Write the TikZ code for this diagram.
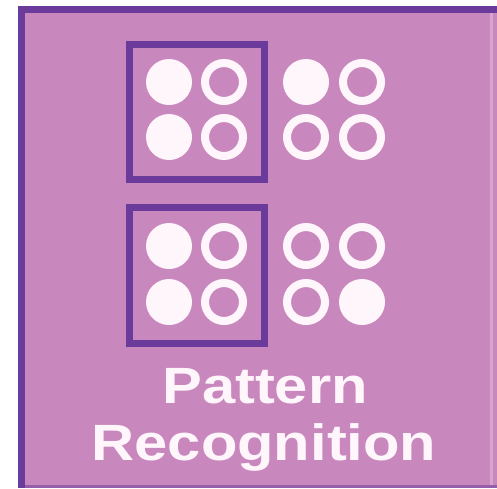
\documentclass[tikz,border=0pt]{standalone}
\usepackage{fontspec}
\setmainfont{Liberation Sans}
\definecolor{panel}{HTML}{C988BD}
\definecolor{frame}{HTML}{6A3B9A}
\definecolor{dot}{HTML}{FFF6FC}
\begin{document}
\begin{tikzpicture}[x=1pt,y=-1pt,
  full/.style={circle,fill=dot,minimum size=46pt,inner sep=0pt},
  ring/.style={circle,draw=dot,line width=8pt,minimum size=38pt,inner sep=0pt},
  selbox/.style={draw=frame,line width=7pt},
  label/.style={text=dot,font=\bfseries\fontsize{51}{51}\selectfont,xscale=1.17,inner sep=0pt}]
\useasboundingbox (0,0) rectangle (497,488);
\fill[white] (0,0) rectangle (497,488);
% panel
\fill[panel] (18,7) rectangle (497,488);
\fill[frame] (18,6) rectangle (497,13);
\fill[frame] (18,6) rectangle (25,488);
\fill[frame!55!panel] (25,485) rectangle (497,488);
\fill[panel!75!white] (490,13) rectangle (493,485);
% selection boxes
\draw[selbox] (129.5,44.5) rectangle (264.5,179.5);
\draw[selbox] (129.5,207.5) rectangle (264.5,343.5);
% row 1
\node[full] (a1) at (169,82) {};
\node[ring] (a2) at (224,82) {};
\node[full] (a3) at (306,82) {};
\node[ring] (a4) at (362,82) {};
% row 2
\node[full] (b1) at (169,137) {};
\node[ring] (b2) at (224,137) {};
\node[ring] (b3) at (306,137) {};
\node[ring] (b4) at (362,137) {};
% row 3
\node[full] (c1) at (169,246) {};
\node[ring] (c2) at (224,246) {};
\node[ring] (c3) at (306,246) {};
\node[ring] (c4) at (362,246) {};
% row 4
\node[full] (d1) at (169,302) {};
\node[ring] (d2) at (224,302) {};
\node[ring] (d3) at (306,302) {};
\node[full] (d4) at (362,302) {};
% text
\node[label,anchor=base] (t1) at (265,403) {Pattern};
\node[label,anchor=base] (t2) at (264,460) {Recognition};
\end{tikzpicture}
\end{document}
